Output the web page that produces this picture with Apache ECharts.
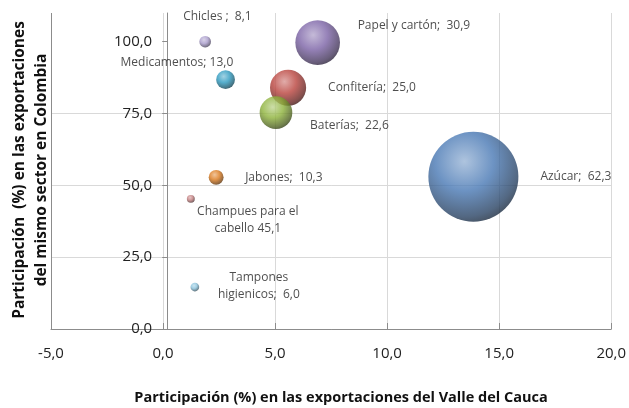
<!DOCTYPE html>
<html>
<head>
<meta charset="utf-8">
<script src="https://cdn.jsdelivr.net/npm/echarts@6/dist/echarts.min.js"></script>
<style>
html,body{margin:0;padding:0;background:#fff;}
#chart{width:629px;height:408px;}
</style>
</head>
<body>
<div id="chart"></div>
<script>
// ---- data ----
var labels = ['Azúcar;  62,3', 'Papel y cartón;  30,9', 'Confitería;  25,0', 'Baterías;  22,6',
              'Medicamentos; 13,0', 'Jabones;  10,3', 'Chicles ;  8,1',
              'Champues para el\ncabello 45,1', 'Tampones\nhigienicos;  6,0'];
var xValues = [13.85, 6.9, 5.58, 5.04, 2.79, 2.37, 1.88, 1.24, 1.42];
var yValues = [53.0, 99.7, 84.0, 75.3, 86.8, 52.8, 100.0, 45.3, 14.6];
var bubbleSizes = [62.3, 30.9, 25.0, 22.6, 13.0, 10.3, 8.1, 5.5, 6.0];
var xTicks = [-5, 0, 5, 10, 15, 20];
var yTicks = [0, 25, 50, 75, 100];

// ---- styles ----
var baseColors = ['#4878b4', '#7b62a6', '#b9423c', '#8db23a', '#2c9ac0', '#dc7a1c', '#a89bcb', '#c47f80', '#8ac3dd'];
var labelLayout = [
  {align: 'left', offset: [67, 0]},
  {align: 'left', offset: [40, -17]},
  {align: 'left', offset: [40, 0]},
  {align: 'left', offset: [34, 13]},
  {align: 'left', offset: [-105, -17]},
  {align: 'left', offset: [29, 0]},
  {align: 'left', offset: [-22, -25]},
  {align: 'center', offset: [57, 21]},
  {align: 'center', offset: [64, -1]}
];

function mix(hex, target, t) {
  var c = parseInt(hex.slice(1), 16);
  var r = (c >> 16) & 255, g = (c >> 8) & 255, b = c & 255;
  r = Math.round(r + (target - r) * t);
  g = Math.round(g + (target - g) * t);
  b = Math.round(b + (target - b) * t);
  return 'rgb(' + r + ',' + g + ',' + b + ')';
}
function sphere(hex) {
  return {
    type: 'radial', x: 0.4, y: 0.33, r: 0.72,
    colorStops: [
      {offset: 0, color: mix(hex, 255, 0.45)},
      {offset: 0.45, color: hex},
      {offset: 0.85, color: mix(hex, 0, 0.45)},
      {offset: 1, color: mix(hex, 0, 0.7)}
    ]
  };
}
function fmt(v) { return v.toFixed(1).replace('.', ','); }

var data = labels.map(function (name, i) {
  return {
    name: name,
    value: [xValues[i], yValues[i], bubbleSizes[i]],
    itemStyle: {color: sphere(baseColors[i])},
    label: {align: labelLayout[i].align, offset: labelLayout[i].offset}
  };
});

var chart = echarts.init(document.getElementById('chart'), null, {renderer: 'canvas'});
var axisColor = '#8c8c8c';
var gridColor = '#d9d9d9';
var textFont = '"Open Sans", sans-serif';
var gridLeft = 51;

chart.setOption({
  animation: false,
  backgroundColor: '#fff',
  grid: {left: gridLeft, right: 13, top: 13, bottom: 79, containLabel: false},
  xAxis: {
    type: 'value', min: -5, max: 20, interval: 5,
    axisLine: {show: true, onZero: true, lineStyle: {color: axisColor, width: 1}},
    axisTick: {show: true, inside: true, length: 6, lineStyle: {color: axisColor}},
    axisLabel: {
      customValues: xTicks,
      formatter: function (v) { return fmt(v); },
      color: '#222', fontSize: 15, fontFamily: textFont, margin: 17
    },
    splitLine: {show: true, lineStyle: {color: [axisColor, gridColor, gridColor, gridColor, gridColor, gridColor], width: 1}}
  },
  yAxis: {
    type: 'value', min: 0, max: 110, interval: 25,
    axisLine: {show: true, onZero: false, lineStyle: {color: axisColor, width: 1}},
    axisTick: {show: true, length: 5, customValues: yTicks, lineStyle: {color: axisColor}},
    axisLabel: {
      customValues: yTicks,
      formatter: function (v) { return fmt(v); },
      color: '#222', fontSize: 15, fontFamily: textFont, margin: 15
    },
    splitLine: {show: true, showMaxLine: false, lineStyle: {color: gridColor, width: 1}}
  },
  graphic: [
    {
      type: 'text', x: 31, y: 170, rotation: Math.PI / 2,
      style: {
        text: 'Participación  (%) en las exportaciones\ndel mismo sector en Colombia',
        font: 'bold 15.5px "Open Sans", sans-serif', fill: '#111',
        textAlign: 'center', textVerticalAlign: 'middle', lineHeight: 22
      }
    },
    {
      type: 'text', x: 341, y: 398,
      style: {
        text: 'Participación (%) en las exportaciones del Valle del Cauca',
        font: 'bold 14.5px "Open Sans", sans-serif', fill: '#111',
        textAlign: 'center', textVerticalAlign: 'middle'
      }
    }
  ],
  series: [{
    type: 'scatter',
    symbol: 'circle',
    symbolSize: function (val) { return val[2] * 1.445; },
    data: data,
    label: {
      show: true, position: 'inside',
      formatter: function (p) { return p.name; },
      color: '#222', fontSize: 12, fontFamily: textFont, lineHeight: 17,
      verticalAlign: 'middle'
    },
    emphasis: {disabled: true}
  }]
});

// place the vertical axis where x = 0 (as in the reference), using the library's own scale
var zeroPx = chart.convertToPixel({xAxisIndex: 0}, 0);
chart.setOption({yAxis: {offset: -(zeroPx - gridLeft)}});
</script>
</body>
</html>
